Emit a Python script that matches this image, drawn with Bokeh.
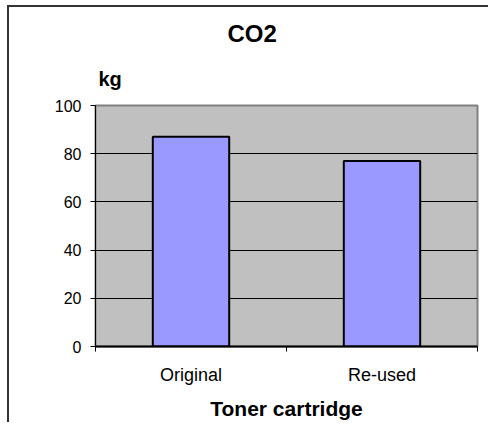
from bokeh.plotting import figure
from bokeh.models import Range1d, FixedTicker, Title
from bokeh.embed import file_html
from bokeh.resources import INLINE

categories = ["Original", "Re-used"]
co2_kg = [87, 77]
y_ticks = [0, 20, 40, 60, 80, 100]

FONT = "Liberation Sans"

x_pos = [i + 0.5 for i in range(len(categories))]

p = figure(width=481, height=417, output_backend="svg", toolbar_location=None,
           x_range=Range1d(0, len(categories)), y_range=Range1d(0, 100),
           min_border_left=86, min_border_right=13, min_border_top=98, min_border_bottom=78,
           title=None)
p.styles = {"border-left": "2px solid #333333", "border-top": "2px solid #333333",
            "margin-left": "7px", "margin-top": "5px"}

p.background_fill_color = "#C0C0C0"
p.border_fill_color = "white"
p.outline_line_color = "#808080"
p.outline_line_width = 2

p.vbar(x=x_pos, top=co2_kg, width=0.4, fill_color="#9999FF", line_color="black", line_width=2)

# x axis
p.xaxis.ticker = FixedTicker(ticks=x_pos, minor_ticks=list(range(len(categories) + 1)))
p.xaxis.major_label_overrides = {x: c for x, c in zip(x_pos, categories)}
p.xaxis.major_tick_line_color = None
p.xaxis.minor_tick_line_color = "black"
p.xaxis.minor_tick_out = 5
p.xaxis.minor_tick_in = 0
p.xaxis.axis_line_color = "black"
p.xaxis.axis_line_width = 2
p.xaxis.major_label_text_font = FONT
p.xaxis.major_label_text_font_size = "18px"
p.xaxis.major_label_text_color = "black"
p.xaxis.major_label_standoff = 12
p.xaxis.axis_label = "Toner cartridge"
p.xaxis.axis_label_text_font = FONT
p.xaxis.axis_label_text_font_style = "bold"
p.xaxis.axis_label_text_font_size = "21px"
p.xaxis.axis_label_text_color = "black"
p.xaxis.axis_label_standoff = 9

# y axis
p.yaxis.ticker = FixedTicker(ticks=y_ticks)
p.yaxis.minor_tick_line_color = None
p.yaxis.major_tick_out = 5
p.yaxis.major_tick_in = 0
p.yaxis.major_tick_line_color = "black"
p.yaxis.axis_line_color = "black"
p.yaxis.major_label_text_font = FONT
p.yaxis.major_label_text_font_size = "16px"
p.yaxis.major_label_text_color = "black"
p.yaxis.major_label_standoff = 9

p.xgrid.grid_line_color = None
p.ygrid.ticker = FixedTicker(ticks=y_ticks[1:-1])
p.ygrid.grid_line_color = "black"
p.ygrid.grid_line_width = 1

kg = Title(text="kg", align="left", offset=3, text_font=FONT, text_font_style="bold",
           text_font_size="20px", text_color="black", standoff=32)
co2 = Title(text="CO2", align="left", offset=132, text_font=FONT, text_font_style="bold",
            text_font_size="24px", text_color="black", standoff=5)
p.add_layout(kg, "above")
p.add_layout(co2, "above")

open("out.html", "w").write(file_html(p, INLINE))
